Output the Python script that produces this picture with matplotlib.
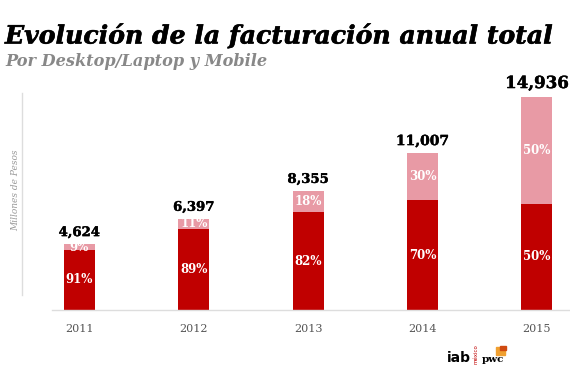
import matplotlib
matplotlib.use('Agg')
import matplotlib.pyplot as plt
import matplotlib.patheffects as pe
from matplotlib.lines import Line2D
import numpy as np

# data
years = ['2011', '2012', '2013', '2014', '2015']
totals = [4624, 6397, 8355, 11007, 14936]
desktop_pct = [91, 89, 82, 70, 50]
mobile_pct = [9, 11, 18, 30, 50]
total_sizes = [9.5, 9.5, 9.5, 10, 12]

dark = '#C00000'
light = '#E89AA5'

W, H = 570, 380
fig = plt.figure(figsize=(W / 100, H / 100), dpi=100)

# axes placed in pixel terms
ax = fig.add_axes([52 / W, 70 / H, (W - 52) / W, 230 / H])
x = np.arange(len(years))
tot = np.array(totals, dtype=float)
desk = tot * np.array(desktop_pct) / 100
mob = tot - desk

ax.bar(x, desk, width=0.27, color=dark, zorder=2)
ax.bar(x, mob, width=0.27, bottom=desk, color=light, zorder=2)

ax.set_xlim(-0.24, 4.29)
ax.set_ylim(0, 16130)

serif = 'DejaVu Serif'
heavy = [pe.withStroke(linewidth=0.3, foreground='black')]
for i in range(len(years)):
    ax.text(x[i], desk[i] / 2, '%d%%' % desktop_pct[i], ha='center', va='center',
            color='white', fontsize=8.5, fontweight='bold', family=serif, zorder=3)
    ax.text(x[i], desk[i] + mob[i] / 2, '%d%%' % mobile_pct[i],
            ha='center', va='center', color='white', fontsize=8.5,
            fontweight='bold', family=serif, zorder=3)
    ax.text(x[i], tot[i] + 350, '{:,}'.format(totals[i]), ha='center', va='bottom',
            color='black', fontsize=total_sizes[i], fontweight='heavy', family=serif,
            path_effects=heavy)

ax.set_xticks(x)
ax.set_xticklabels(years, family=serif, color='#555555', fontsize=8)
ax.tick_params(axis='x', length=0, pad=10)
ax.set_yticks([])
for s in ['top', 'right', 'left']:
    ax.spines[s].set_visible(False)
ax.spines['bottom'].set_color('#dddddd')
ax.spines['bottom'].set_linewidth(1)

# left vertical line and axis title
fig.add_artist(Line2D([22 / W, 22 / W], [1 - 93 / H, 1 - 295 / H],
                      color='#dddddd', lw=1, transform=fig.transFigure))
fig.text(16 / W, 1 - 190 / H, 'Millones de Pesos', rotation=90, ha='center',
         va='center', color='#999999', fontsize=6.5, style='italic', family=serif)

# titles
fig.text(5 / W, 1 - 36 / H, 'Evolución de la facturación anual total', ha='left',
         va='center', fontsize=18.1, fontweight='bold', style='italic', family=serif,
         path_effects=[pe.withStroke(linewidth=0.4, foreground='black')])
fig.text(5 / W, 1 - 61 / H, 'Por Desktop/Laptop y Mobile', ha='left', va='center',
         fontsize=11.6, fontweight='bold', style='italic', family=serif, color='#888888')

# logos (approximation)
fig.text(471 / W, 1 - 362 / H, 'iab', ha='right', va='baseline', fontsize=10,
         fontweight='bold', family='DejaVu Sans', color='black')
fig.text(476 / W, 1 - 354 / H, 'méxico', ha='center', va='center', rotation=90,
         fontsize=4, color=dark, family='DejaVu Sans')
fig.text(482 / W, 1 - 362 / H, 'pwc', ha='left', va='baseline', fontsize=7.5,
         fontweight='bold', family=serif, color='black')
fig.add_artist(plt.Rectangle((496 / W, 1 - 355 / H), 9 / W, 8 / H,
                             color='#F0A030', transform=fig.transFigure))
fig.add_artist(plt.Rectangle((500 / W, 1 - 350 / H), 6 / W, 4 / H,
                             color='#D04A10', transform=fig.transFigure))

fig.savefig('out.png', dpi=100)
